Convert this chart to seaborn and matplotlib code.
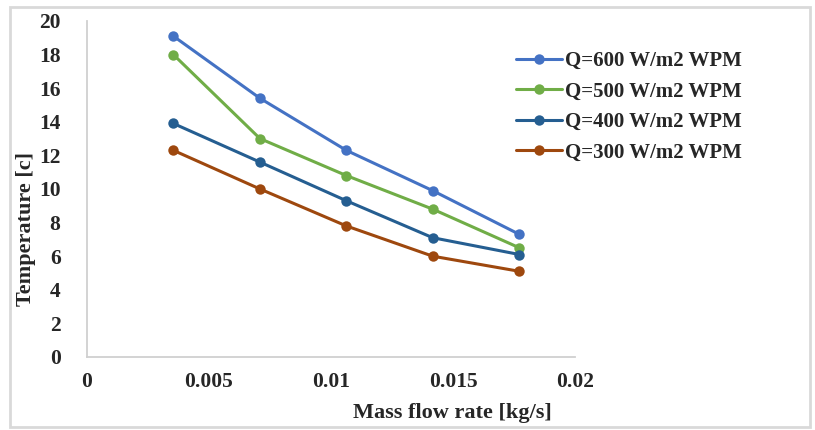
import matplotlib
matplotlib.use("Agg")
import matplotlib.pyplot as plt
import seaborn as sns
import pandas as pd
from matplotlib.patches import Rectangle
from matplotlib.ticker import FixedLocator

# ---- data ----
mass_flow = [0.00354, 0.00709, 0.01063, 0.01417, 0.01772]
series_names = ["Q=600 W/m2 WPM", "Q=500 W/m2 WPM", "Q=400 W/m2 WPM", "Q=300 W/m2 WPM"]
t_600 = [19.1, 15.4, 12.3, 9.9, 7.3]
t_500 = [18.0, 13.0, 10.8, 8.8, 6.5]
t_400 = [13.9, 11.6, 9.3, 7.1, 6.1]
t_300 = [12.3, 10.0, 7.8, 6.0, 5.1]
colors = ["#4472C4", "#70AD47", "#255E91", "#9E480E"]
x_ticks = [0, 0.005, 0.01, 0.015, 0.02]
x_tick_labels = ["0", "0.005", "0.01", "0.015", "0.02"]
y_ticks = [0, 2, 4, 6, 8, 10, 12, 14, 16, 18, 20]

rows = []
for name, vals in zip(series_names, [t_600, t_500, t_400, t_300]):
    for x, v in zip(mass_flow, vals):
        rows.append({"m": x, "T": v, "series": name})
df = pd.DataFrame(rows)

sns.set_style("white")
plt.rcParams["font.family"] = ["Liberation Serif", "DejaVu Serif"]
plt.rcParams["font.weight"] = "bold"

fig = plt.figure(figsize=(8.15, 4.30), dpi=100)
ax = fig.add_axes([0.1067, 0.1698, 0.7055 - 0.1067, 0.9512 - 0.1698])

sns.lineplot(data=df, x="m", y="T", hue="series", hue_order=series_names,
             palette=colors, marker="o", markersize=7.5, markeredgewidth=0,
             linewidth=2.2, ax=ax, legend=True)

ax.set_xlim(0, 0.02)
ax.set_ylim(0, 20)
ax.xaxis.set_major_locator(FixedLocator(x_ticks))
ax.set_xticklabels(x_tick_labels)
ax.set_yticks(y_ticks)
ax.tick_params(axis="both", length=0, labelsize=15.5)
ax.tick_params(axis="x", pad=11)
ax.tick_params(axis="y", pad=19)
for lab in ax.get_xticklabels() + ax.get_yticklabels():
    lab.set_fontweight("bold")

for s in ["top", "right"]:
    ax.spines[s].set_visible(False)
for s in ["left", "bottom"]:
    ax.spines[s].set_color("#D0D0D0")
    ax.spines[s].set_linewidth(1.3)

ax.set_xlabel("Mass flow rate [kg/s]", fontsize=16, fontweight="bold")
ax.set_ylabel("Temperature [c]", fontsize=16, fontweight="bold")
ax.xaxis.set_label_coords(0.748, -0.136)
ax.yaxis.set_label_coords(-0.104, 0.38)

leg = ax.legend(loc="upper left", bbox_to_anchor=(0.623, 0.90), bbox_transform=fig.transFigure,
                frameon=False, fontsize=15, handlelength=2.2, handletextpad=0.15,
                labelspacing=0.5, borderaxespad=0)
for t in leg.get_texts():
    t.set_fontweight("bold")

fig.patches.append(Rectangle((0.012, 0.006), 0.982, 0.978, transform=fig.transFigure,
                             fill=False, edgecolor="#D9D9D9", linewidth=2.0))

fig.savefig("out.png", dpi=100)
